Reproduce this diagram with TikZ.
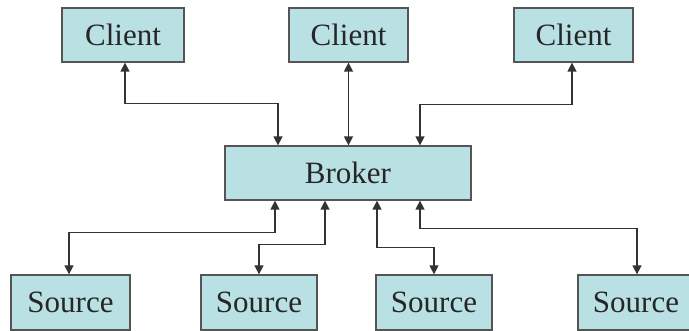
\documentclass[tikz,border=0pt]{standalone}
\usepackage{fontspec}
\setmainfont{Liberation Serif}
\usetikzlibrary{arrows.meta,calc}
\definecolor{boxfill}{HTML}{B9E0E3}
\definecolor{boxline}{HTML}{555555}
\definecolor{arrline}{HTML}{333333}
\begin{document}
\begin{tikzpicture}[x=1pt,y=-1pt,
  box/.style={draw=boxline,line width=1.3pt,fill=boxfill,inner sep=0pt,
    text=black!85,font=\fontsize{31}{31}\selectfont},
  arr/.style={draw=arrline,line width=1.5pt,
    {Triangle[width=9pt,length=9pt]}-{Triangle[width=9pt,length=9pt]}}]
\useasboundingbox (0,0) rectangle (689,330);
\node[box,minimum width=122pt,minimum height=54pt] (c1) at (123,35) {Client};
\node[box,minimum width=119pt,minimum height=54pt] (c2) at (348.5,35) {Client};
\node[box,minimum width=119pt,minimum height=54pt] (c3) at (573.5,35) {Client};
\node[box,minimum width=246pt,minimum height=54pt] (b) at (348,173) {Broker};
\node[box,minimum width=119pt,minimum height=55pt] (s1) at (70.5,302.5) {Source};
\node[box,minimum width=116pt,minimum height=55pt] (s2) at (259,302.5) {Source};
\node[box,minimum width=116pt,minimum height=55pt] (s3) at (434,302.5) {Source};
\node[box,minimum width=116pt,minimum height=55pt] (s4) at (636,302.5) {Source};
% clients
\draw[arr] ($(c1.south)+(2,0)$) |- ($(b.north)+(-70,-42)$) -- ($(b.north)+(-70,0)$);
\draw[arr] (c2.south) -- (c2.south |- b.north);
\draw[arr] ($(c3.south)+(-1.5,0)$) |- ($(b.north)+(72,-41)$) -- ($(b.north)+(72,0)$);
% sources
\draw[arr] ($(b.south)+(-73,0)$) |- ($(s1.north)+(-1.5,-42)$) -- ($(s1.north)+(-1.5,0)$);
\draw[arr] ($(b.south)+(-23,0)$) |- ($(s2.north)+(0,-30)$) -- (s2.north);
\draw[arr] ($(b.south)+(29,0)$) |- ($(s3.north)+(0,-27)$) -- (s3.north);
\draw[arr] ($(b.south)+(72,0)$) |- ($(s4.north)+(1,-46)$) -- ($(s4.north)+(1,0)$);
\end{tikzpicture}
\end{document}
